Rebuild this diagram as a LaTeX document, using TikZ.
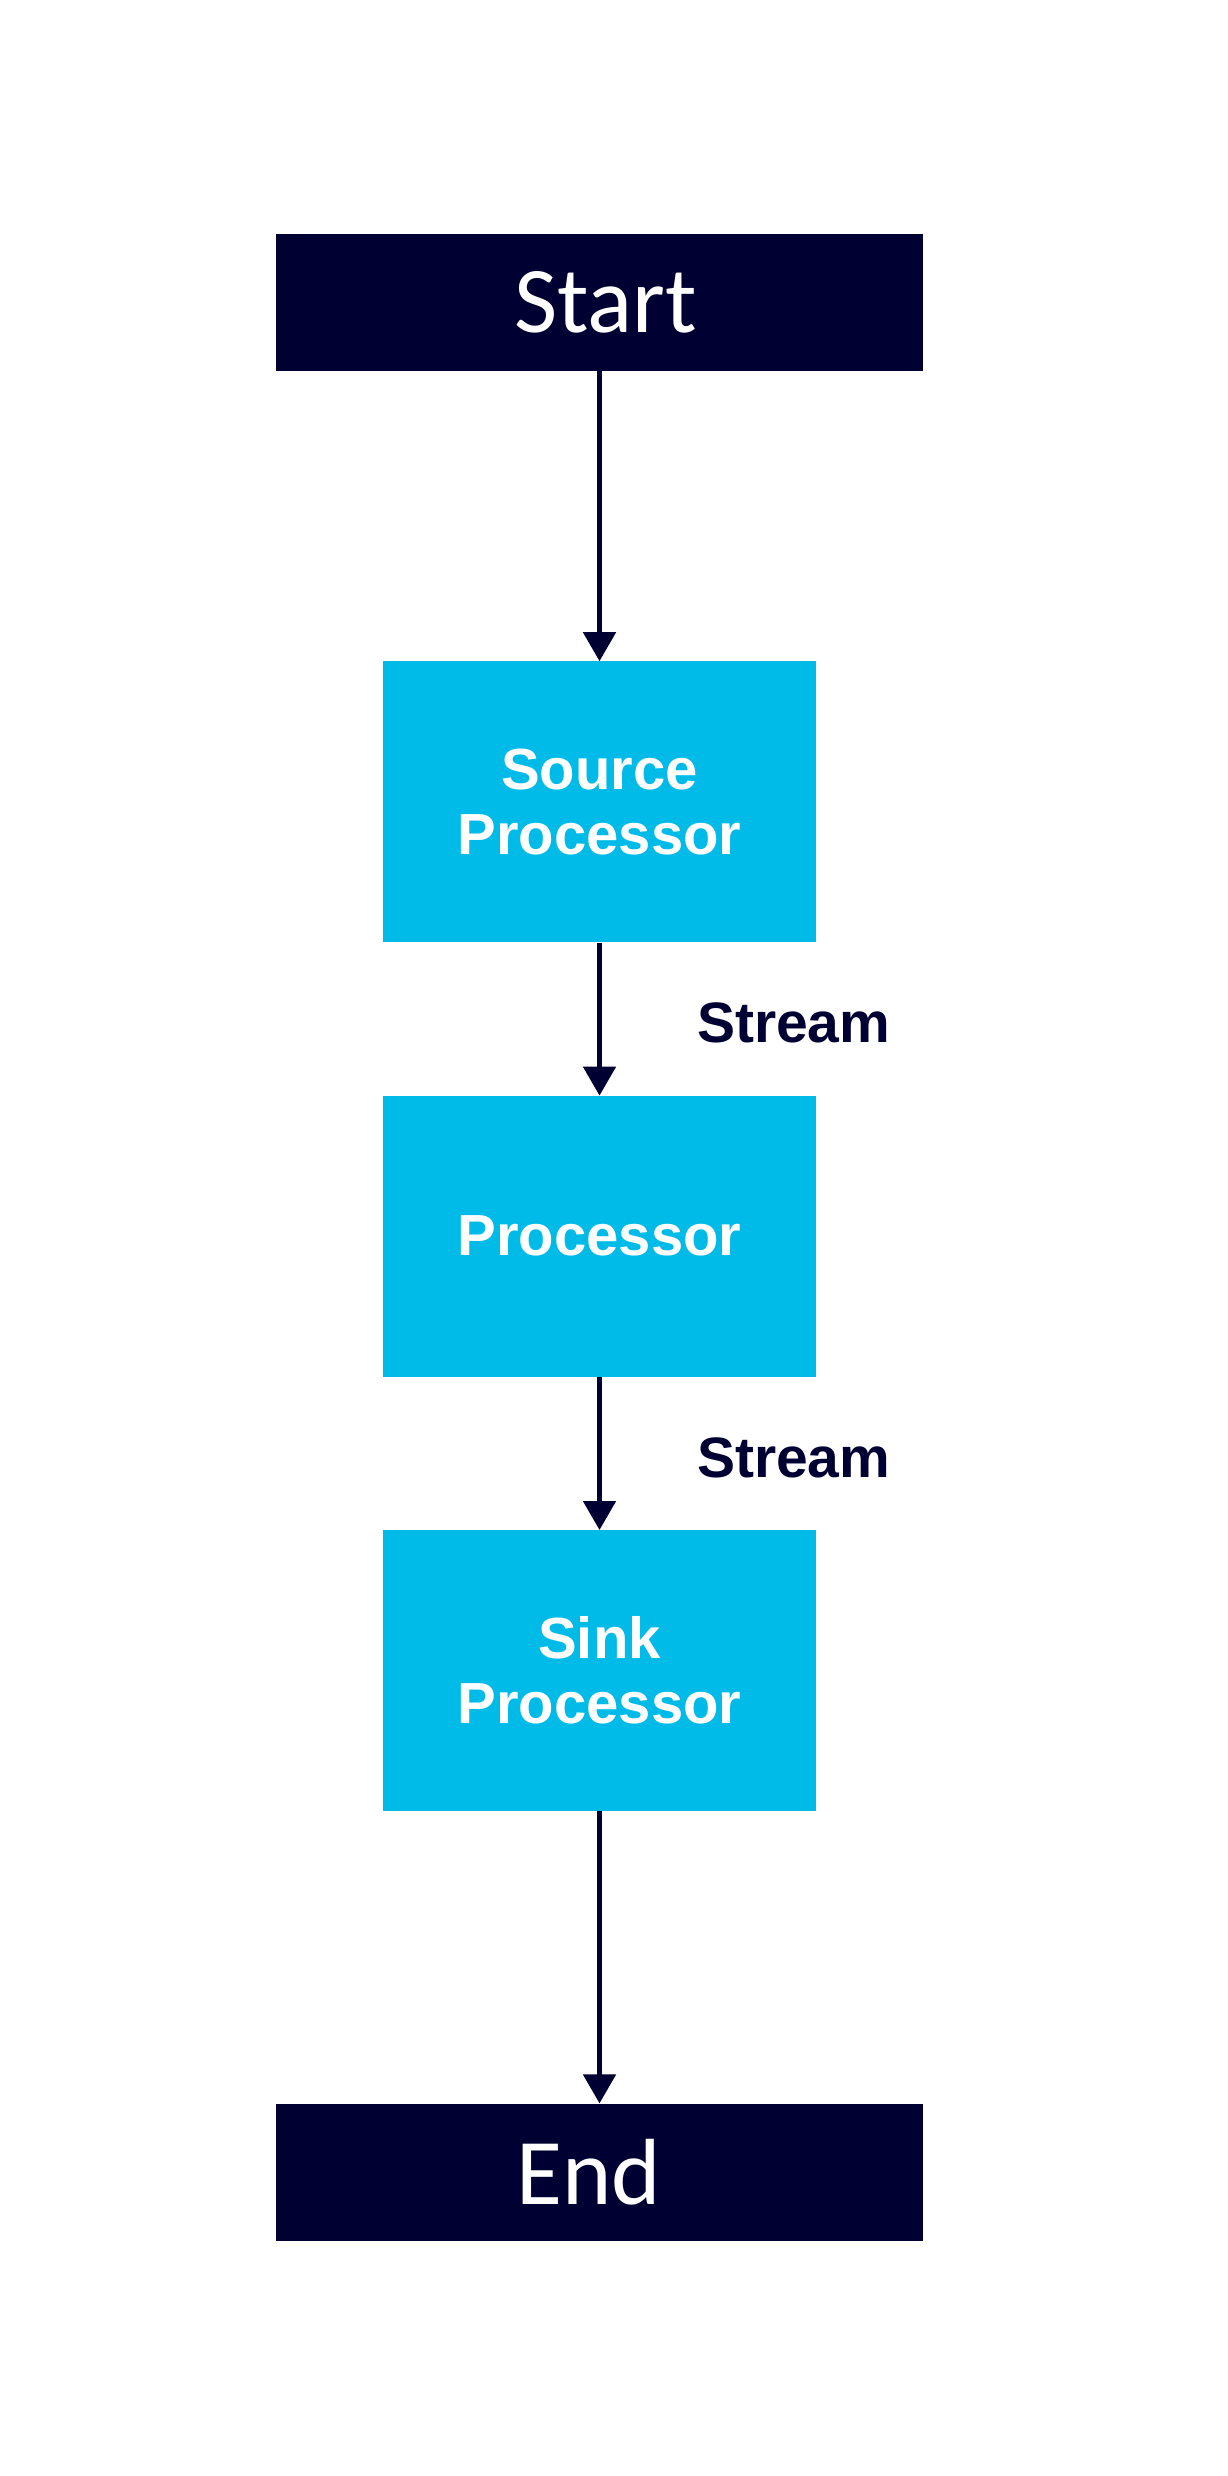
\documentclass[tikz,border=0pt]{standalone}
\usepackage{fontspec}
\setsansfont{Liberation Sans}
\newfontfamily\calfont{Carlito}
\usepackage{xcolor}
\usepackage{tikz}
\usetikzlibrary{arrows.meta, positioning, calc}

\definecolor{navy}{RGB}{0,0,51}
\definecolor{procblue}{RGB}{0,187,231}

\begin{document}
\begin{tikzpicture}[
    terminal/.style={fill=navy, text=white, minimum width=647pt, minimum height=137pt,
      inner sep=0pt, font=\calfont\fontsize{94}{100}\selectfont},
    procbox/.style={fill=procblue, text=white, minimum width=433pt, minimum height=281pt,
      inner sep=0pt, align=center, font=\sffamily\bfseries\fontsize{58}{65}\selectfont},
    flow/.style={draw=navy, line width=5pt, -{Triangle[width=32pt, length=29pt]}},
    streamlbl/.style={text=navy, inner sep=0pt, anchor=west,
      font=\sffamily\bfseries\fontsize{57}{65}\selectfont}]
  \useasboundingbox[fill=white] (0,0) rectangle (1228pt,-2476pt);
  \node[terminal] (start) at (599.5pt,-302.5pt) {\hspace{12pt}Start};
  \node[procbox, below=290pt of start] (src) {Source\\Processor};
  \node[procbox, below=153pt of src] (proc) {Processor};
  \node[procbox, below=153pt of proc] (sink) {Sink\\Processor};
  \node[terminal, below=292pt of sink] (end) {End\kern22pt\null};
  \draw[flow] (start) -- (src);
  \draw[flow] (src) -- node[streamlbl, right=95pt, yshift=-4pt] {Stream} (proc);
  \draw[flow] (proc) -- node[streamlbl, right=95pt, yshift=-4pt] {Stream} (sink);
  \draw[flow] (sink) -- (end);
\end{tikzpicture}
\end{document}
